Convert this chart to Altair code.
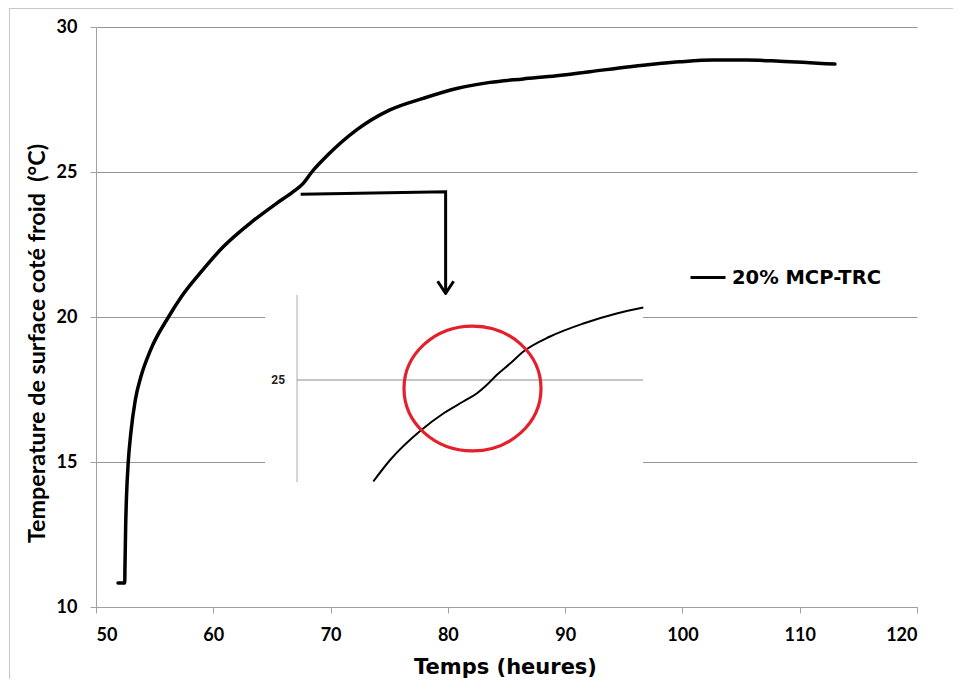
import altair as alt
import pandas as pd

# ---------------- data ----------------
series_name = "20% MCP-TRC"

time_h = [51.88, 52.45, 52.47, 52.53, 52.60, 52.75, 52.97, 53.35, 53.82, 54.65,
          56.18, 57.25, 58.87, 60.85, 63.13, 65.40, 66.82, 67.67, 68.40,
          69.80, 72.22, 75.06, 77.90, 80.75, 83.59, 86.43, 89.27, 92.11, 95.52,
          99.79, 102.63, 105.47, 108.31, 113.00]
temp_c = [10.83, 10.83, 11.40, 12.80, 13.80, 15.00, 16.00, 17.14, 17.93, 18.86,
          20.00, 20.68, 21.51, 22.42, 23.23, 23.92, 24.32, 24.61, 25.00,
          25.60, 26.45, 27.14, 27.54, 27.88, 28.09, 28.21, 28.32, 28.46, 28.63,
          28.80, 28.86, 28.86, 28.82, 28.72]

# zoomed inset (its own scale)
inset_time = [62.03, 62.87, 64.40, 65.53, 66.53, 67.20, 67.70, 68.20, 68.87,
              69.57, 70.87, 72.53, 74.20, 75.53]
inset_temp = [22.97, 23.40, 23.99, 24.33, 24.57, 24.73, 24.90, 25.10, 25.33,
              25.58, 25.87, 26.13, 26.33, 26.45]
inset_tick = [25]
inset_box = {"x0": 56.62, "x1": 75.52, "y0": 22.96, "y1": 26.70}
inset_axis_x = 58.22
ellipse_center = {"t": 66.99, "T": 24.83}

# annotation arrow (main chart coordinates)
arrow_t = [67.45, 79.81, 79.81]
arrow_T = [24.23, 24.32, 20.82]

x_ticks = [50, 60, 70, 80, 90, 100, 110, 120]
y_ticks = [10, 15, 20, 25, 30]

# ---------------- scales ----------------
xs = alt.Scale(domain=[50, 120], nice=False, zero=False)
ys = alt.Scale(domain=[10, 30], nice=False, zero=False)
xi = alt.Scale(domain=[60, 75], range=[236.7, 536.7], nice=False, zero=False)
yi = alt.Scale(domain=[23, 27], range=[453, 253], nice=False, zero=False)

AX = "#a0a0a0"
GRID = "#969696"

x_axis = alt.Axis(values=x_ticks, grid=False, domainColor=AX, tickColor=AX,
                  tickSize=6, labelFont="Lato", labelFontWeight="bold",
                  labelFontSize=18, labelColor="#000", labelPadding=13,
                  title="Temps (heures)", titleFont="DejaVu Sans",
                  titleFontWeight="bold", titleFontSize=21, titleColor="#000",
                  titleX=409, titleY=66, titleAlign="center",
                  titleBaseline="alphabetic")
y_axis = alt.Axis(values=y_ticks, grid=True, gridColor=GRID, domainColor=AX,
                  tickColor=AX, tickSize=6, labelFont="Lato",
                  labelFontWeight="bold", labelFontSize=18, labelColor="#000",
                  labelPadding=13,
                  title="Temperature de surface coté froid\u00a0 (°C)",
                  titleFont="Lato", titleFontWeight="bold", titleFontSize=23.3,
                  titleColor="#000", titleX=-59, titleY=316, titleAngle=270,
                  titleAlign="center", titleBaseline="middle")

main_df = pd.DataFrame({"t": time_h, "T": temp_c, "s": series_name})
main_line = alt.Chart(main_df).mark_line(
    strokeWidth=3.5, interpolate="monotone", strokeCap="round"
).encode(
    x=alt.X("t:Q", scale=xs, axis=x_axis),
    y=alt.Y("T:Q", scale=ys, axis=y_axis),
    color=alt.Color("s:N", scale=alt.Scale(domain=[series_name], range=["#000000"]),
                    legend=alt.Legend(orient="none", legendX=593, legendY=231.5,
                                      title=None, symbolType="stroke",
                                      symbolSize=1225, symbolStrokeWidth=3,
                                      labelFont="DejaVu Sans",
                                      labelFontWeight="bold", labelFontSize=19.5,
                                      labelColor="#000", labelOffset=5,
                                      padding=0)),
)

arrow_df = pd.DataFrame({"t": arrow_t, "T": arrow_T, "i": [0, 1, 2]})
arrow_line = alt.Chart(arrow_df).mark_line(
    color="#000", strokeWidth=3, strokeJoin="miter", interpolate="linear"
).encode(x=alt.X("t:Q", scale=xs), y=alt.Y("T:Q", scale=ys), order="i:O")
arrow_head = alt.Chart(arrow_df.iloc[[2]]).mark_point(
    shape="M -1 -1.5 L 0 0 L 1 -1.5", size=256, filled=False,
    stroke="#000", strokeWidth=3, opacity=1
).encode(x=alt.X("t:Q", scale=xs), y=alt.Y("T:Q", scale=ys))

frame_left = alt.Chart().mark_rule(color="#c8c8c8", strokeWidth=1).encode(
    x=alt.value(-86.5), y=alt.value(-19), y2=alt.value(700))
frame_top = alt.Chart().mark_rule(color="#c8c8c8", strokeWidth=1).encode(
    x=alt.value(-86.5), x2=alt.value(900), y=alt.value(-18.5))

main_group = alt.layer(frame_left, frame_top, main_line, arrow_line, arrow_head)

# ---------------- inset ----------------
box_df = pd.DataFrame([inset_box])
inset_bg = alt.Chart(box_df).mark_rect(fill="white", stroke=None).encode(
    x=alt.X("x0:Q", scale=xi, axis=None), x2="x1:Q",
    y=alt.Y("y0:Q", scale=yi, axis=None), y2="y1:Q")

axis_df = pd.DataFrame({"ax": [inset_axis_x], "y0": [inset_box["y0"]],
                        "y1": [inset_box["y1"]]})
inset_axis = alt.Chart(axis_df).mark_rule(color="#d4d4d4", strokeWidth=2).encode(
    x=alt.X("ax:Q", scale=xi, axis=None),
    y=alt.Y("y0:Q", scale=yi, axis=None), y2="y1:Q")

grid_df = pd.DataFrame({"ax": [inset_axis_x], "x1": [inset_box["x1"]],
                        "g": inset_tick, "lab": [str(v) for v in inset_tick]})
inset_grid = alt.Chart(grid_df).mark_rule(color="#8a8a8a", strokeWidth=1).encode(
    x=alt.X("ax:Q", scale=xi, axis=None), x2="x1:Q",
    y=alt.Y("g:Q", scale=yi, axis=None))
inset_label = alt.Chart(grid_df).mark_text(
    align="right", baseline="middle", dx=-12, font="Roboto",
    fontWeight="bold", fontSize=12, color="#222"
).encode(x=alt.X("ax:Q", scale=xi, axis=None),
         y=alt.Y("g:Q", scale=yi, axis=None), text="lab:N")

inset_df = pd.DataFrame({"ti": inset_time, "Ti": inset_temp})
inset_curve = alt.Chart(inset_df).mark_line(
    color="#000", strokeWidth=2, interpolate="monotone"
).encode(x=alt.X("ti:Q", scale=xi, axis=None),
         y=alt.Y("Ti:Q", scale=yi, axis=None))

ell_df = pd.DataFrame([ellipse_center])
ellipse = alt.Chart(ell_df).mark_point(
    shape="M -1 0 A 1 0.912 0 1 1 1 0 A 1 0.912 0 1 1 -1 0 Z",
    size=18769, filled=False, stroke="#e3202b", strokeWidth=3.2, opacity=1
).encode(x=alt.X("t:Q", scale=xi, axis=None),
         y=alt.Y("T:Q", scale=yi, axis=None))

inset_group = alt.layer(inset_bg, inset_axis, inset_grid, inset_label,
                        inset_curve, ellipse)

chart = alt.layer(main_group, inset_group).resolve_scale(
    x="independent", y="independent"
).properties(
    width=821, height=580,
    autosize=alt.AutoSizeParams(type="none"),
    padding={"left": 88, "top": 19, "right": 36, "bottom": 72},
    background="white",
).configure_view(stroke=None)

chart.save("out.html", embed_options={"renderer": "svg", "actions": False})
